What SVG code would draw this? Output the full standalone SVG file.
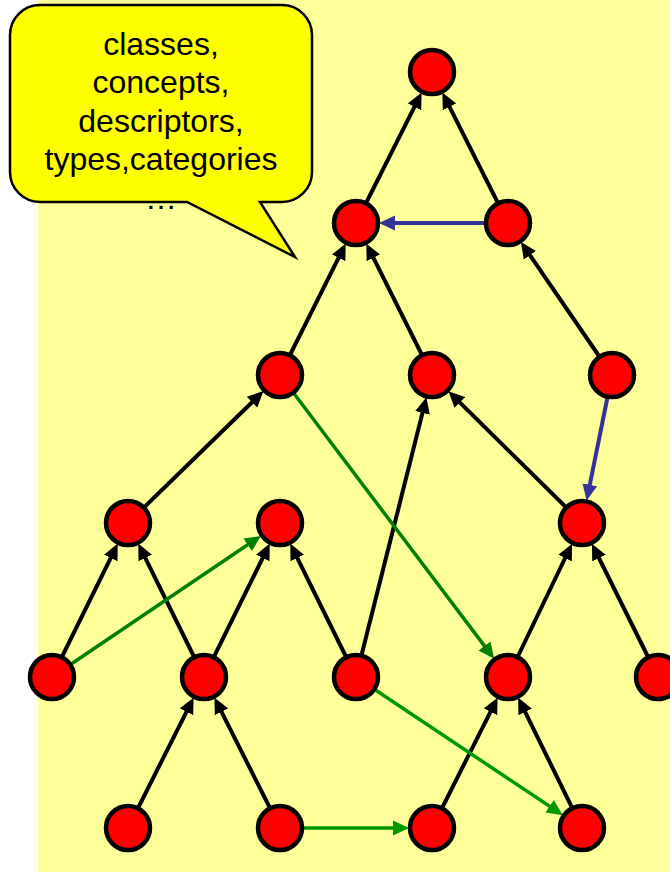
<svg xmlns="http://www.w3.org/2000/svg" width="670" height="873" viewBox="0 0 670 873">
<style>
.e{stroke:#000;stroke-width:4;fill:none;marker-end:url(#ab)}
.b{stroke:#333399;stroke-width:4;fill:none;marker-end:url(#abl)}
.g{stroke:#008000;stroke-width:3.5;fill:none;marker-end:url(#ag)}
.g2{stroke:#009900;stroke-width:3.5;fill:none;marker-end:url(#ag2)}
.n{fill:#ff0000;stroke:#000;stroke-width:4.5}
.t{font-family:"Liberation Sans",Arial,sans-serif;font-size:32px;fill:#000;text-anchor:middle}
</style>
<defs>
<marker id="ab" markerUnits="userSpaceOnUse" markerWidth="16" markerHeight="16" refX="9" refY="8" orient="auto"><path d="M0,0.5 L16,8 L0,15.5 Z" fill="#000"/></marker>
<marker id="abl" markerUnits="userSpaceOnUse" markerWidth="16" markerHeight="16" refX="9" refY="8" orient="auto"><path d="M0,0.5 L16,8 L0,15.5 Z" fill="#333399"/></marker>
<marker id="ag" markerUnits="userSpaceOnUse" markerWidth="16" markerHeight="16" refX="9" refY="8" orient="auto"><path d="M0,0.5 L16,8 L0,15.5 Z" fill="#008000"/></marker>
<marker id="ag2" markerUnits="userSpaceOnUse" markerWidth="16" markerHeight="16" refX="9" refY="8" orient="auto"><path d="M0,0.5 L16,8 L0,15.5 Z" fill="#009900"/></marker>
</defs>
<rect x="38" y="0" width="632" height="872" fill="#ffff99"/>
<g id="connectors">
<line class="e" x1="356" y1="223" x2="418.5" y2="98.8"/>
<line class="e" x1="508" y1="223" x2="445.5" y2="98.8"/>
<line class="b" x1="508" y1="223" x2="386" y2="223"/>
<line class="e" x1="280" y1="375" x2="342.6" y2="249.8"/>
<line class="e" x1="432" y1="375" x2="369.4" y2="249.8"/>
<line class="e" x1="612" y1="375" x2="524.9" y2="247.8"/>
<line class="b" x1="612" y1="375" x2="588" y2="493.6"/>
<line class="e" x1="128" y1="523" x2="258.5" y2="395.9"/>
<line class="e" x1="582" y1="523" x2="453.4" y2="396.1"/>
<line class="e" x1="356" y1="677" x2="424.7" y2="404.1"/>
<line class="e" x1="52" y1="677" x2="114.7" y2="549.9"/>
<line class="e" x1="204" y1="677" x2="141.3" y2="549.9"/>
<line class="e" x1="204" y1="677" x2="266.7" y2="549.9"/>
<line class="e" x1="356" y1="677" x2="293.3" y2="549.9"/>
<line class="e" x1="508" y1="677" x2="569" y2="550"/>
<line class="e" x1="658" y1="677" x2="595" y2="550"/>
<line class="g" x1="52" y1="677" x2="255.1" y2="539.8"/>
<line class="g" x1="280" y1="375" x2="489.9" y2="653.1"/>
<line class="e" x1="128" y1="828" x2="190.5" y2="703.8"/>
<line class="e" x1="280" y1="828" x2="217.5" y2="703.8"/>
<line class="e" x1="432" y1="828" x2="494.5" y2="703.8"/>
<line class="e" x1="582" y1="828" x2="521.2" y2="703.9"/>
<line class="g2" x1="280" y1="828" x2="402" y2="828"/>
<line class="g2" x1="356" y1="677" x2="557.1" y2="811.3"/>
</g>
<g id="n0"><circle class="n" cx="432" cy="72" r="22"/></g>
<g id="n1a"><circle class="n" cx="356" cy="223" r="22"/></g>
<g id="n1b"><circle class="n" cx="508" cy="223" r="22"/></g>
<g id="n2a"><circle class="n" cx="280" cy="375" r="22"/></g>
<g id="n2b"><circle class="n" cx="432" cy="375" r="22"/></g>
<g id="n2c"><circle class="n" cx="612" cy="375" r="22"/></g>
<g id="n3a"><circle class="n" cx="128" cy="523" r="22"/></g>
<g id="n3b"><circle class="n" cx="280" cy="523" r="22"/></g>
<g id="n3c"><circle class="n" cx="582" cy="523" r="22"/></g>
<g id="n4a"><circle class="n" cx="52" cy="677" r="22"/></g>
<g id="n4b"><circle class="n" cx="204" cy="677" r="22"/></g>
<g id="n4c"><circle class="n" cx="356" cy="677" r="22"/></g>
<g id="n4d"><circle class="n" cx="508" cy="677" r="22"/></g>
<g id="n4e"><circle class="n" cx="658" cy="677" r="22"/></g>
<g id="n5a"><circle class="n" cx="128" cy="828" r="22"/></g>
<g id="n5b"><circle class="n" cx="280" cy="828" r="22"/></g>
<g id="n5c"><circle class="n" cx="432" cy="828" r="22"/></g>
<g id="n5d"><circle class="n" cx="582" cy="828" r="22"/></g>
<g id="callout">
<path d="M40,5 H282 A30,30 0 0 1 312,35 V172 A30,30 0 0 1 282,202 H260 L295,257 L187,202 H40 A30,30 0 0 1 10,172 V35 A30,30 0 0 1 40,5 Z" fill="#ffff00" stroke="#000" stroke-width="2.5"/>
<text class="t" x="161" y="55">classes,</text>
<text class="t" x="161" y="93">concepts,</text>
<text class="t" x="161" y="132">descriptors,</text>
<text class="t" x="161" y="170">types,categories</text>
<text class="t" x="161" y="209">…</text>
</g>
</svg>
